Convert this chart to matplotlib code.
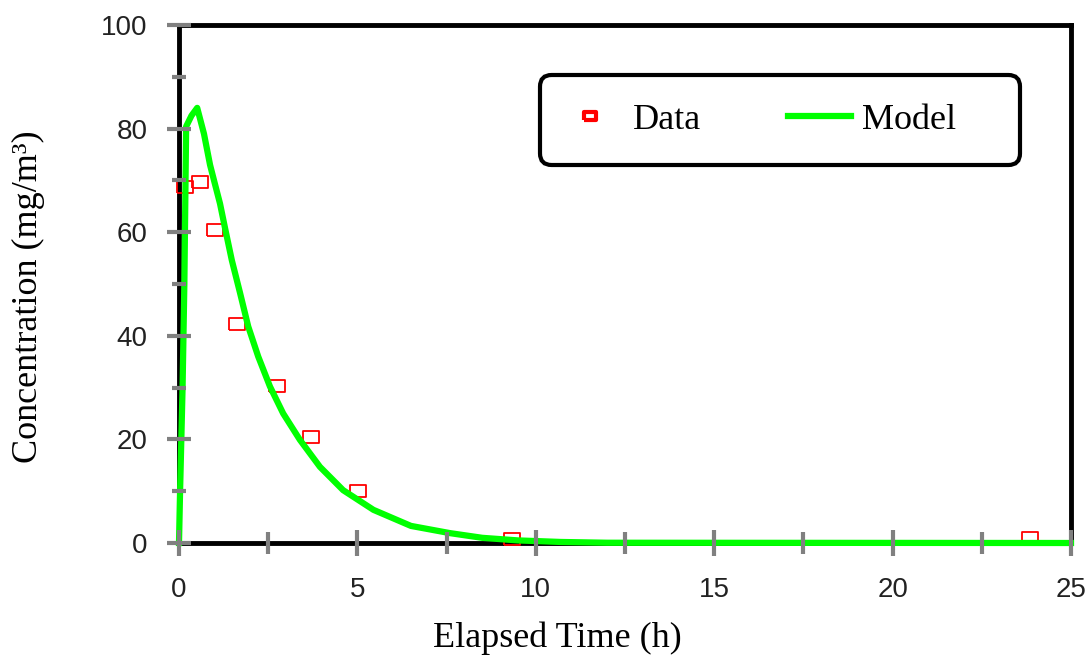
import matplotlib
matplotlib.use("Agg")
import matplotlib.pyplot as plt
from matplotlib.patches import FancyBboxPatch
from matplotlib.ticker import MultipleLocator

# measured concentrations
data_t = [0.18, 0.59, 1.0, 1.63, 2.75, 3.7, 5.02, 9.32, 23.85]
data_c = [68.7, 69.7, 60.4, 42.2, 30.3, 20.4, 10.1, 0.8, 1.0]

# fitted model curve
model_t = [0, 0.03, 0.1, 0.15, 0.2, 0.35, 0.51, 0.7, 0.87, 1.0, 1.15, 1.29, 1.48,
           1.71, 1.94, 2.22, 2.55, 2.92, 3.39, 3.95, 4.6, 5.45, 6.5, 7.6, 8.5,
           9.5, 10.7, 12, 25]
model_c = [0, 10, 30, 50, 80.4, 82.5, 84.0, 79.0, 73.0, 69.5, 65.5, 60.8, 54.6,
           48.3, 41.8, 36.0, 30.2, 25.0, 19.9, 14.7, 10.2, 6.4, 3.3, 1.9, 1.0,
           0.5, 0.2, 0.05, 0]

serif = "Liberation Serif"
sans = "Liberation Sans"

fig = plt.figure(figsize=(10.87, 6.56), dpi=100)
ax = fig.add_axes([179 / 1087, 1 - 543 / 656, 892 / 1087, 518 / 656])

rect = [(-1.45, -1), (1.45, -1), (1.45, 1), (-1.45, 1), (-1.45, -1)]
ax.plot(data_t, data_c, linestyle="none", marker=rect, markersize=12,
        markerfacecolor="none", markeredgecolor="#ff0000", markeredgewidth=1.3,
        label="Data", zorder=3, clip_on=False)
ax.plot(model_t, model_c, color="#00ff00", linewidth=4.5, label="Model",
        zorder=4, clip_on=False)

ax.set_xlim(0, 25)
ax.set_ylim(0, 100)
ax.xaxis.set_major_locator(MultipleLocator(5))
ax.xaxis.set_minor_locator(MultipleLocator(2.5))
ax.yaxis.set_major_locator(MultipleLocator(20))
ax.yaxis.set_minor_locator(MultipleLocator(10))

ax.tick_params(axis="x", which="major", direction="inout", length=19, width=3,
               color="#808080", labelsize=20, pad=15)
ax.tick_params(axis="x", which="minor", direction="inout", length=16, width=3,
               color="#808080")
ax.tick_params(axis="y", which="major", direction="inout", length=17, width=3,
               color="#808080", labelsize=20, pad=14)
ax.tick_params(axis="y", which="minor", direction="inout", length=10, width=3,
               color="#808080")
for lab in ax.get_xticklabels() + ax.get_yticklabels():
    lab.set_fontfamily(sans)
    lab.set_color("#222222")

for s in ax.spines.values():
    s.set_linewidth(3.5)
    s.set_color("black")
    s.set_zorder(1)
ax.xaxis.set_zorder(5)
ax.yaxis.set_zorder(5)

ax.set_xlabel("Elapsed Time (h)", fontsize=26, family=serif, va="baseline")
ax.xaxis.set_label_coords((557 - 179) / 892, (543 - 647) / 518)
ax.set_ylabel("Concentration (mg/m³)", fontsize=26, family=serif, va="baseline")
ax.yaxis.set_label_coords((37 - 179) / 892, (543 - 297) / 518)

# rounded legend frame
box = FancyBboxPatch(((540 - 179) / 892, (543 - 165) / 518), 480 / 892, 90 / 518,
                     boxstyle="round,pad=0,rounding_size=0.013",
                     mutation_aspect=892 / 518, transform=ax.transAxes,
                     facecolor="white", edgecolor="black", linewidth=3, zorder=6,
                     clip_on=False)
ax.add_patch(box)
leg = ax.legend(loc="center left", bbox_to_anchor=((558 - 179) / 892, (543 - 120) / 518),
                ncol=2, frameon=False, borderpad=0, borderaxespad=0,
                handlelength=1.77, handletextpad=0.3, columnspacing=2.4,
                prop={"family": serif, "size": 26})
leg.set_zorder(7)
leg.legend_handles[0].set_markersize(9)
leg.legend_handles[0].set_markeredgewidth(3)

fig.savefig("out.png", dpi=100)
